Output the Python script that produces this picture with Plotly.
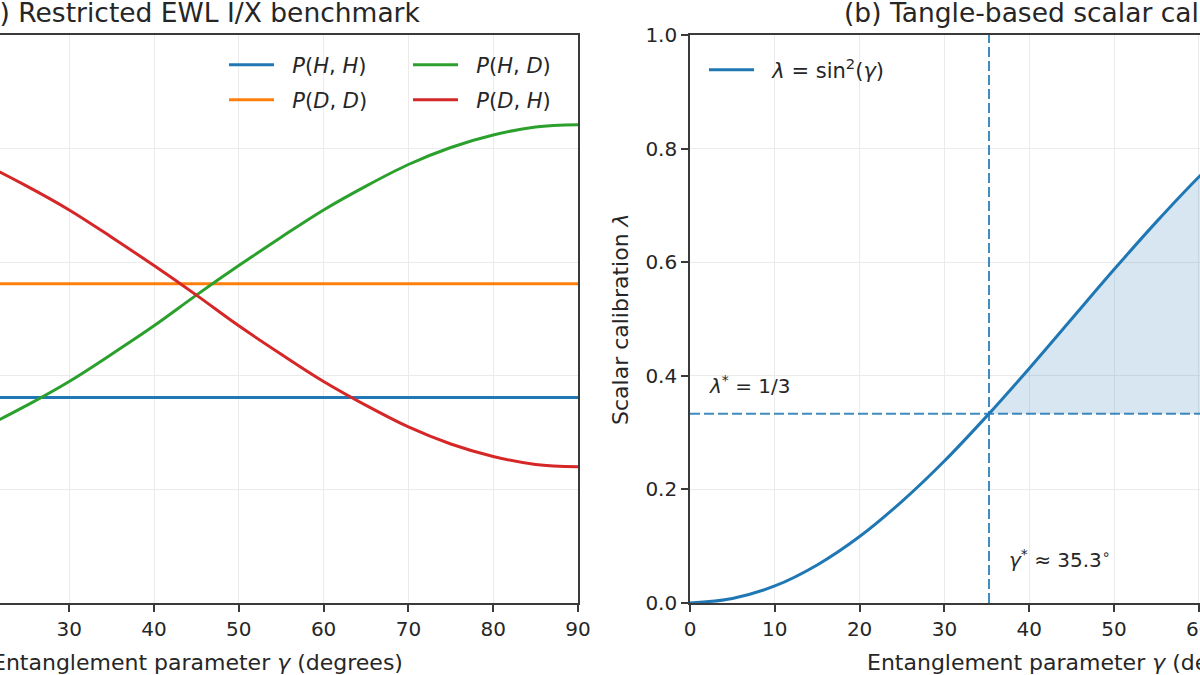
import plotly.graph_objects as go

# ---------------- data ----------------
gamma = [0, 5, 10, 15, 20, 25, 30, 35, 40, 45, 50, 55, 60, 65, 70, 75, 80, 85, 90]

p_hh = [1.81] * 19
p_dd = [2.81] * 19
p_hd = [1.20, 1.22, 1.29, 1.40, 1.55, 1.74, 1.95, 2.19, 2.44, 2.71,
        2.97, 3.22, 3.46, 3.67, 3.86, 4.01, 4.12, 4.19, 4.21]
p_dh = [4.21, 4.19, 4.12, 4.01, 3.86, 3.67, 3.46, 3.22, 2.97, 2.71,
        2.44, 2.19, 1.95, 1.74, 1.55, 1.40, 1.29, 1.22, 1.20]

lam = [0.000, 0.008, 0.030, 0.067, 0.117, 0.179, 0.250, 0.329, 0.413, 0.500,
       0.587, 0.671, 0.750, 0.821, 0.883, 0.933, 0.970, 0.992, 1.000]

gamma_star = 35.26
lambda_star = 1 / 3

x_ticks = [0, 10, 20, 30, 40, 50, 60, 70, 80, 90]
y_ticks_b = [0.0, 0.2, 0.4, 0.6, 0.8, 1.0]

# ---------------- styling ----------------
C0, C1, C2, C3 = "#1f77b4", "#ff7f0e", "#2ca02c", "#d62728"
FONT = "DejaVu Sans"
GRID = "#ebebeb"
SPINE = "#3a3a3a"
TICK_FS = 20
LAB_FS = 22
TITLE_FS = 26.5
LEG_FS = 21
ANN_FS = 20
GAP = "&nbsp;&nbsp;"

W, H = 1200, 675
M_T, M_B = 35, 72
PH = H - M_T - M_B


def px_x(p):
    return p / W


def px_y(p):
    return (H - M_B - p) / PH


fig = go.Figure()

# ---------- panel (a) ----------
series_a = [
    (p_hh, C0, "<i>P</i>(<i>H</i>, <i>H</i>)", "legend"),
    (p_dd, C1, "<i>P</i>(<i>D</i>, <i>D</i>)", "legend3"),
    (p_hd, C2, "<i>P</i>(<i>H</i>, <i>D</i>)", "legend4"),
    (p_dh, C3, "<i>P</i>(<i>D</i>, <i>H</i>)", "legend5"),
]
for vals, col, name, lg in series_a:
    fig.add_trace(go.Scatter(
        x=gamma, y=vals, mode="lines", name=GAP + name,
        line=dict(color=col, width=3, shape="spline"),
        xaxis="x", yaxis="y", legend=lg, showlegend=True))

# ---------- panel (b) ----------
fill_x = [gamma_star] + [g for g in gamma if g > gamma_star]
fill_upper = [lambda_star] + [v for g, v in zip(gamma, lam) if g > gamma_star]
poly_x = fill_x + fill_x[::-1]
poly_y = fill_upper + [lambda_star] * len(fill_x)
fig.add_trace(go.Scatter(
    x=poly_x, y=poly_y, mode="lines", fill="toself",
    fillcolor="rgba(31,119,180,0.18)", line=dict(width=0),
    hoverinfo="skip", showlegend=False, xaxis="x2", yaxis="y2"))

fig.add_trace(go.Scatter(
    x=gamma, y=lam, mode="lines",
    name=GAP + "<i>λ</i> = sin<sup>2</sup>(<i>γ</i>)",
    line=dict(color=C0, width=3, shape="spline"),
    xaxis="x2", yaxis="y2", legend="legend2", showlegend=True))

# dashed reference lines
fig.add_shape(type="line", xref="x2 domain", yref="y2",
              x0=0, x1=1, y0=lambda_star, y1=lambda_star,
              line=dict(color="rgba(31,119,180,0.85)", width=2, dash="10px,4px"))
fig.add_shape(type="line", xref="x2", yref="y2 domain",
              x0=gamma_star, x1=gamma_star, y0=0, y1=1,
              line=dict(color="rgba(31,119,180,0.85)", width=2, dash="10px,4px"))

# ---------------- axes ----------------
left_domain = [0, px_x(578)]
right_domain = [px_x(690), 1.0]
x_left_range = [90 - 578 / 8.48, 90]
x_right_range = [0, 510 / 8.48]

common_x = dict(tickvals=x_ticks, ticktext=[str(t) for t in x_ticks],
                showgrid=True, gridcolor=GRID, gridwidth=1,
                showline=True, linecolor=SPINE, linewidth=1.6, mirror=True,
                ticks="outside", ticklen=7, tickwidth=1.5, tickcolor=SPINE,
                tickfont=dict(family=FONT, size=TICK_FS, color="#262626"),
                ticklabeloverflow="allow",
                zeroline=False, automargin=False)

fig.update_layout(
    xaxis=dict(domain=left_domain, range=x_left_range, anchor="y", **common_x),
    yaxis=dict(domain=[0, 1], range=[0, 5], dtick=1, anchor="x", side="right",
               showgrid=True, gridcolor=GRID, gridwidth=1,
               showline=True, linecolor=SPINE, linewidth=1.6, mirror=False,
               ticks="", showticklabels=False, zeroline=False, automargin=False),
    xaxis2=dict(domain=right_domain, range=x_right_range, anchor="y2", **common_x),
    yaxis2=dict(domain=[0, 1], range=[0, 1], tickvals=y_ticks_b,
                ticktext=[f"{v:.1f}" for v in y_ticks_b], anchor="x2",
                showgrid=True, gridcolor=GRID, gridwidth=1,
                showline=True, linecolor=SPINE, linewidth=1.6, mirror=False,
                ticks="outside", ticklen=7, tickwidth=1.5, tickcolor=SPINE,
                tickfont=dict(family=FONT, size=TICK_FS, color="#262626"),
                ticklabeloverflow="allow",
                zeroline=False, automargin=False),
)


def leg(xp, yp):
    return dict(x=px_x(xp), y=px_y(yp), xanchor="left", yanchor="middle",
                bgcolor="rgba(0,0,0,0)", borderwidth=0, itemwidth=45,
                font=dict(family=FONT, size=LEG_FS, color="#262626"))


fig.update_layout(
    legend=leg(224, 65),
    legend3=leg(224, 100),
    legend4=leg(408, 65),
    legend5=leg(408, 100),
    legend2=leg(704, 70),
)

# ---------------- text ----------------
ann = [
    dict(text="(a) Restricted EWL I/X benchmark", x=px_x(197), y=px_y(13),
         size=TITLE_FS, xanchor="center"),
    dict(text="(b) Tangle-based scalar calibration", x=px_x(1072), y=px_y(13),
         size=TITLE_FS, xanchor="center"),
    dict(text="Entanglement parameter <i>γ</i> (degrees)", x=px_x(197), y=px_y(662),
         size=LAB_FS, xanchor="center"),
    dict(text="Entanglement parameter <i>γ</i> (degrees)", x=px_x(1072), y=px_y(662),
         size=LAB_FS, xanchor="center"),
]
for a in ann:
    fig.add_annotation(text=a["text"], xref="paper", yref="paper", x=a["x"], y=a["y"],
                       xanchor=a["xanchor"], yanchor="middle", showarrow=False,
                       font=dict(family=FONT, size=a["size"], color="#262626"))

fig.add_annotation(text="Scalar calibration <i>λ</i>", xref="paper", yref="paper",
                   x=px_x(620), y=0.5, textangle=-90, showarrow=False,
                   xanchor="center", yanchor="middle",
                   font=dict(family=FONT, size=LAB_FS, color="#262626"))

fig.add_annotation(text="<i>λ</i><sup>*</sup> = 1/3", xref="x2", yref="y2",
                   x=2.0, y=0.383, xanchor="left", yanchor="middle", showarrow=False,
                   font=dict(family=FONT, size=ANN_FS, color="#262626"))
fig.add_annotation(text="<i>γ</i><sup>*</sup> ≈ 35.3<sup>∘</sup>", xref="x2", yref="y2",
                   x=37.4, y=0.078, xanchor="left", yanchor="middle", showarrow=False,
                   font=dict(family=FONT, size=ANN_FS, color="#262626"))

fig.update_layout(
    width=W, height=H, autosize=False,
    margin=dict(l=0, r=0, t=M_T, b=M_B, pad=0, autoexpand=False),
    paper_bgcolor="white", plot_bgcolor="white",
    font=dict(family=FONT, color="#262626"),
)

fig.write_html("out.html",
               config={"responsive": False, "displayModeBar": False},
               default_width="1200px", default_height="675px",
               post_script="document.body.style.margin='0px';"
                           "document.body.style.overflow='hidden';")
